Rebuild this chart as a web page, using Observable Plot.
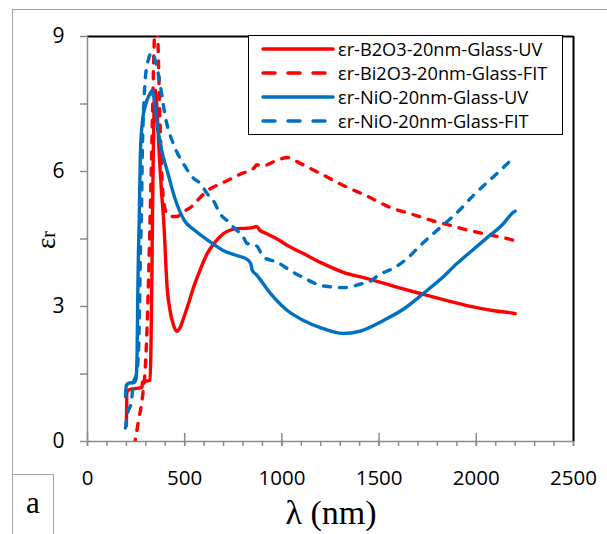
<!DOCTYPE html>
<html>
<head>
<meta charset="utf-8">
<script src="https://cdn.jsdelivr.net/npm/d3@7"></script>
<script src="https://cdn.jsdelivr.net/npm/@observablehq/plot@0.6"></script>
<style>
  html, body { margin: 0; padding: 0; background: #fff; }
  #wrap { position: relative; width: 607px; height: 534px; overflow: hidden; font-family: "Open Sans", sans-serif; }
  #wrap svg.plot { position: absolute; left: 0; top: 0; }
  .abs { position: absolute; }
</style>
</head>
<body>
<div id="wrap"></div>
<script>
// ---------- data ----------
const xTicks = [0, 500, 1000, 1500, 2000, 2500];
const xMinor = d3.range(0, 2501, 100);
const yTicks = [0, 3, 6, 9];
const yMinor = [1.5, 4.5, 7.5];

const seriesNames = [
  "εr-B2O3-20nm-Glass-UV",
  "εr-Bi2O3-20nm-Glass-FIT",
  "εr-NiO-20nm-Glass-UV",
  "εr-NiO-20nm-Glass-FIT"
];
const seriesColors = ["#ff0000", "#ff0000", "#0070c0", "#0070c0"];
const seriesDashed = [false, true, false, true];

const b2o3UV_x = [200,203,215,250,280,283,300,322,326,330,334,338,342,346,350,356,362,370,380,392,410,425,440,458,475,495,520,545,580,615,660,700,770,820,855,870,885,920,975,1043,1100,1198,1316,1440,1600,1728,1850,1952,2100,2190,2200];
const b2o3UV_y = [0.35,1.1,1.15,1.18,1.2,1.32,1.34,1.36,2.0,3.2,4.8,6.3,7.3,7.7,7.8,7.5,7.0,6.3,5.6,4.9,3.4,2.9,2.62,2.45,2.52,2.75,3.07,3.42,3.82,4.17,4.45,4.62,4.73,4.74,4.76,4.78,4.7,4.62,4.5,4.32,4.2,3.98,3.76,3.62,3.42,3.27,3.13,3.02,2.9,2.85,2.84];

const bi2o3FIT_x = [240,262,283,298,307,315,325,333,342,350,358,366,375,385,395,410,430,460,490,530,570,615,670,720,790,855,870,900,960,1028,1095,1200,1316,1440,1558,1670,1779,1870,1952,2040,2123,2190,2200];
const bi2o3FIT_y = [-0.1,0.45,1.0,1.7,2.6,3.8,5.5,7.0,8.7,9.5,9.4,8.3,6.8,5.7,5.25,5.05,5.0,5.0,5.1,5.2,5.38,5.57,5.7,5.8,5.95,6.07,6.15,6.12,6.22,6.31,6.18,5.95,5.69,5.45,5.2,5.05,4.9,4.8,4.7,4.62,4.54,4.47,4.45];

const nioUV_x = [195,200,215,240,250,255,259,262,266,272,282,300,318,334,345,360,380,411,450,500,550,600,650,700,771,820,840,848,870,941,1028,1111,1198,1316,1400,1522,1628,1728,1820,1902,1980,2056,2130,2190,2200];
const nioUV_y = [1.0,1.25,1.3,1.31,1.4,1.96,3.4,4.2,4.9,6.4,7.1,7.5,7.7,7.8,7.55,7.0,6.5,6.0,5.4,4.9,4.7,4.53,4.38,4.24,4.13,4.05,3.95,3.8,3.7,3.29,2.91,2.69,2.53,2.4,2.45,2.69,2.95,3.29,3.62,3.96,4.25,4.53,4.8,5.09,5.12];

const nioFIT_x = [195,205,226,236,252,262,268,272,277,282,290,298,314,330,350,375,401,443,494,545,581,617,648,684,720,751,800,822,853,874,905,977,1043,1111,1198,1250,1316,1352,1404,1440,1506,1573,1645,1710,1779,1840,1902,1985,2056,2123,2190,2200];
const nioFIT_y = [0.3,0.6,0.9,1.3,1.5,1.96,3.0,4.2,4.9,6.4,7.5,8.1,8.5,8.64,8.45,7.9,7.2,6.6,6.17,5.85,5.73,5.5,5.35,5.05,4.9,4.76,4.55,4.4,4.38,4.33,4.1,3.98,3.8,3.64,3.47,3.44,3.42,3.43,3.5,3.53,3.72,3.85,4.07,4.35,4.62,4.85,5.09,5.47,5.76,6.02,6.29,6.32];

const seriesX = [b2o3UV_x, bi2o3FIT_x, nioUV_x, nioFIT_x];
const seriesY = [b2o3UV_y, bi2o3FIT_y, nioUV_y, nioFIT_y];

// ---------- build ----------
const axisGray = "#8c8c8c";
const fmt = d3.format("d");
const lineMarks = seriesNames.map((name, i) => {
  const rows = seriesX[i].map((x, j) => ({x, y: seriesY[i][j]}));
  return Plot.line(rows, {
    x: "x", y: "y", curve: "monotone-x", clip: true,
    stroke: seriesColors[i], strokeWidth: 3.4,
    strokeDasharray: seriesDashed[i] ? "7,9" : null,
    strokeLinecap: "round", strokeLinejoin: "round"
  });
});

const chart = Plot.plot({
  width: 607, height: 534,
  marginLeft: 87, marginRight: 34, marginTop: 36, marginBottom: 93,
  x: {domain: [0, 2500]},
  y: {domain: [0, 9]},
  style: {fontFamily: "'Open Sans', sans-serif", color: "black", background: "transparent"},
  marks: [
    Plot.axisY({ticks: yTicks, tickSize: 7, tickPadding: 16, fontSize: 21, tickFormat: fmt, stroke: axisGray, strokeWidth: 1.5, fill: "black", label: null}),
    Plot.axisY({ticks: yMinor, tickSize: 7, tickFormat: () => "", stroke: axisGray, strokeWidth: 1.5, label: null}),
    Plot.axisX({ticks: xTicks, tickSize: 5, tickPadding: 24, fontSize: 20.5, tickFormat: fmt, stroke: axisGray, strokeWidth: 1.5, fill: "black", label: null}),
    Plot.axisX({ticks: xMinor, tickSize: 5, tickFormat: () => "", stroke: axisGray, strokeWidth: 1.5, label: null}),
    Plot.ruleX(xTicks, {y1: 0, y2: 0.18, stroke: axisGray, strokeWidth: 1.5}),
    Plot.ruleY([9], {stroke: "black", strokeWidth: 2}),
    Plot.ruleX([2500], {stroke: "black", strokeWidth: 2}),
    ...lineMarks,
    Plot.ruleX([0], {stroke: axisGray, strokeWidth: 1.5}),
    Plot.ruleY([0], {stroke: axisGray, strokeWidth: 1.5})
  ]
});
chart.classList.add("plot");

const wrap = document.getElementById("wrap");
wrap.appendChild(chart);

function addDiv(css, html) {
  const d = document.createElement("div");
  d.className = "abs";
  d.style.cssText = css;
  if (html != null) d.innerHTML = html;
  wrap.appendChild(d);
  return d;
}

// outer frame lines
addDiv("left:12px;top:9px;width:600px;height:0;border-top:1.5px solid #a6a6a6;");
addDiv("left:12px;top:9px;width:0;height:530px;border-left:1.5px solid #a6a6a6;");
// "a" box
addDiv("left:12px;top:474px;width:42px;height:70px;border:1.5px solid #a6a6a6;background:#fff;font-family:'Liberation Serif',serif;font-size:31px;line-height:1;text-align:center;padding-top:12px;box-sizing:border-box;", "a");

// y label
addDiv("left:46px;top:240px;transform:translate(-50%,-50%) rotate(-90deg);font-family:'Liberation Serif',serif;font-size:27px;white-space:nowrap;line-height:1;", "ε<span style='font-size:20px'>r</span>");
// x label
addDiv("left:331px;top:513px;transform:translate(-50%,-50%);font-family:'Liberation Serif',serif;font-size:34px;white-space:nowrap;line-height:1;", "λ (nm)");

// legend
const leg = addDiv("left:248px;top:35px;width:315px;height:100px;border:1.5px solid #000;background:#fff;box-sizing:border-box;");
const rowYs = [13, 37, 61, 85];
seriesNames.forEach((name, i) => {
  const s = document.createElementNS("http://www.w3.org/2000/svg", "svg");
  s.setAttribute("width", 80); s.setAttribute("height", 10);
  s.style.cssText = `position:absolute;left:9px;top:${rowYs[i]-5}px;`;
  const l = document.createElementNS("http://www.w3.org/2000/svg", "line");
  l.setAttribute("x1", 5); l.setAttribute("x2", 75); l.setAttribute("y1", 5); l.setAttribute("y2", 5);
  l.setAttribute("stroke", seriesColors[i]); l.setAttribute("stroke-width", 3.4);
  l.setAttribute("stroke-linecap", "round");
  if (seriesDashed[i]) l.setAttribute("stroke-dasharray", "12,13");
  s.appendChild(l);
  leg.appendChild(s);
  const t = document.createElement("div");
  t.style.cssText = `position:absolute;left:89px;top:${rowYs[i]}px;transform:translateY(-50%);font-family:'Open Sans',sans-serif;font-size:18.2px;line-height:1;white-space:nowrap;color:#000;`;
  t.textContent = name;
  leg.appendChild(t);
});
</script>
</body>
</html>
